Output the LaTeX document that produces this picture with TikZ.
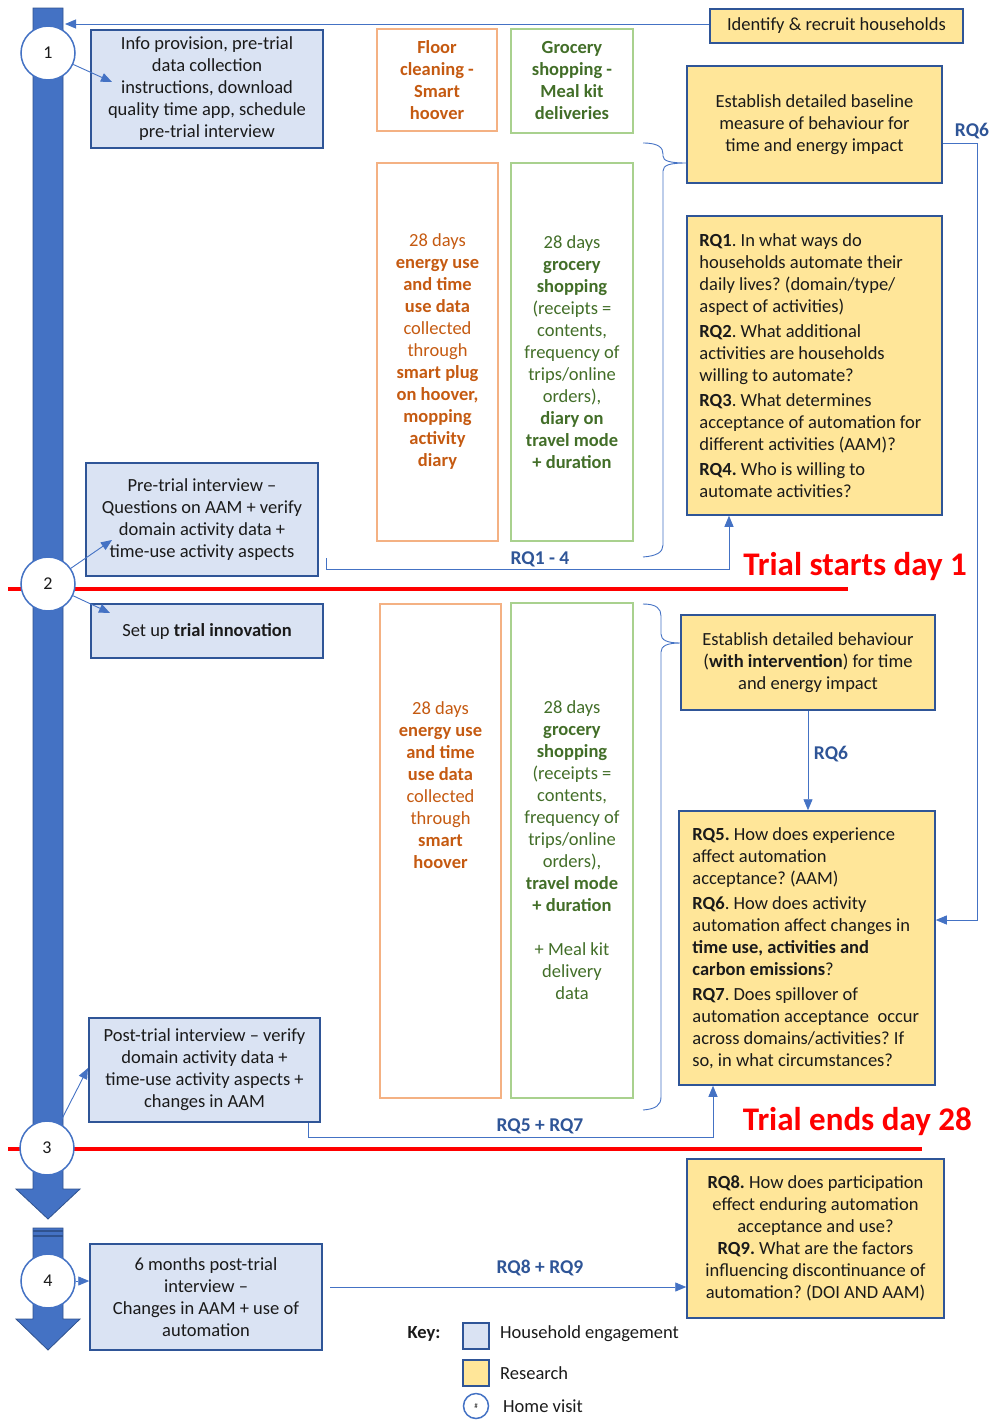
\documentclass[tikz,border=0pt]{standalone}
\usepackage{fontspec}
\setmainfont{Carlito}
\usetikzlibrary{arrows.meta}
\frenchspacing

\definecolor{barblue}{HTML}{4472C4}
\definecolor{bardark}{HTML}{2F528F}
\definecolor{boxedge}{HTML}{2F5597}
\definecolor{engfill}{HTML}{DAE3F3}
\definecolor{resfill}{HTML}{FFE699}
\definecolor{orangeedge}{HTML}{F4B183}
\definecolor{orangetext}{HTML}{C55A11}
\definecolor{greenedge}{HTML}{A9D18E}
\definecolor{greentext}{HTML}{426E28}
\definecolor{labelblue}{HTML}{2F5597}
\definecolor{trialred}{HTML}{FF0000}
\definecolor{ink}{HTML}{1A1A1A}

\newcommand{\bodyfont}{\fontsize{18.5}{22}\selectfont}

\tikzset{
  base/.style={font=\bodyfont, text=ink},
  engage/.style={base, rectangle, draw=boxedge, line width=1.5pt, fill=engfill, align=center, inner sep=0pt},
  research/.style={base, rectangle, draw=boxedge, line width=1.5pt, fill=resfill, align=center, inner sep=0pt},
  rqtext/.style={base, align=left, inner sep=0pt, anchor=west},
  orangebox/.style={rectangle, draw=orangeedge, line width=1.3pt, inner sep=0pt},
  greenbox/.style={rectangle, draw=greenedge, line width=1.3pt, inner sep=0pt},
  orangetxt/.style={font=\bodyfont, text=orangetext, align=center, inner sep=0pt},
  greentxt/.style={font=\bodyfont, text=greentext, align=center, inner sep=0pt},
  visit/.style={circle, draw=barblue, line width=1.5pt, fill=white, minimum size=54pt, inner sep=0pt, font=\fontsize{18}{18}\selectfont, text=ink},
  conn/.style={draw=barblue, line width=0.9pt},
  tipped/.style={-{Triangle[width=9pt,length=11pt]}},
  rqlabel/.style={font=\bfseries\fontsize{19.5}{20}\selectfont, text=labelblue, inner sep=0pt},
  trial/.style={font=\bfseries\fontsize{33}{33}\selectfont, text=trialred, inner sep=0pt},
  redline/.style={draw=trialred, line width=4.5pt},
  timeline/.style={fill=barblue, draw=bardark, line width=0.8pt}
}

\begin{document}
\begin{tikzpicture}[x=1pt, y=-1pt]
\useasboundingbox (0,0) rectangle (994,1427);

% timeline arrows
\path[timeline] (33,8) -- (63,8) -- (63,1189) -- (80,1189) -- (48,1219) -- (16,1189) -- (33,1189) -- cycle;
\path[timeline] (33,1228) -- (63,1228) -- (63,1319) -- (80,1319) -- (48,1350) -- (16,1319) -- (33,1319) -- cycle;
\draw[bardark, line width=1.2pt] (33,1231) -- (63,1231) (33,1236) -- (63,1236);

% trial start / end lines
\draw[redline] (8,589) -- (848,589);
\draw[redline] (8,1149) -- (922,1149);

% household engagement boxes
\node[engage, minimum width=232pt, minimum height=118pt] (info) at (207,89)
  {Info provision, pre-trial\\data collection\\instructions, download\\quality time app, schedule\\pre-trial interview};
\node[engage, minimum width=232pt, minimum height=113pt] (pretrial) at (202,519.5)
  {Pre-trial interview –\\Questions on AAM + verify\\domain activity data +\\time-use activity aspects};
\node[engage, minimum width=232pt, minimum height=54pt] (setup) at (207,631)
  {Set up \textbf{trial innovation}};
\node[engage, minimum width=231pt, minimum height=104pt] (posttrial) at (204.5,1070)
  {Post-trial interview – verify\\domain activity data +\\time-use activity aspects +\\changes in AAM};
\node[engage, minimum width=232pt, minimum height=106pt] (sixmonths) at (206,1297)
  {6 months post-trial\\interview –\\Changes in AAM + use of\\automation};

% research boxes
\node[research, minimum width=253pt, minimum height=34pt] (identify) at (836.5,26)
  {Identify \& recruit households};
\node[research, minimum width=255pt, minimum height=117pt] (baseline) at (814.5,124.5)
  {Establish detailed baseline\\measure of behaviour for\\time and energy impact};
\node[research, minimum width=255pt, minimum height=299pt] (rq14) at (814.5,365.5) {};
\node[rqtext] (rq14txt) at ([xshift=13pt]rq14.west)
  {\textbf{RQ1}. In what ways do\\households automate their\\daily lives? (domain/type/\\aspect of activities)\\[3pt]
   \textbf{RQ2}. What additional\\activities are households\\willing to automate?\\[3pt]
   \textbf{RQ3}. What determines\\acceptance of automation for\\different activities (AAM)?\\[3pt]
   \textbf{RQ4.} Who is willing to\\automate activities?};
\node[research, minimum width=254pt, minimum height=95pt] (intervention) at (808,662.5)
  {Establish detailed behaviour\\(\textbf{with intervention}) for time\\and energy impact};
\node[research, minimum width=256pt, minimum height=274pt] (rq57) at (807,948) {};
\node[rqtext] (rq57txt) at ([xshift=14pt]rq57.west)
  {\textbf{RQ5.} How does experience\\affect automation\\acceptance? (AAM)\\[3pt]
   \textbf{RQ6}. How does activity\\automation affect changes in\\\textbf{time use, activities and}\\\textbf{carbon emissions}?\\[3pt]
   \textbf{RQ7}. Does spillover of\\automation acceptance\ \ occur\\across domains/activities? If\\so, in what circumstances?};
\node[research, minimum width=257pt, minimum height=159pt] (rq89) at (815.5,1238.5)
  {\textbf{RQ8.} How does participation\\effect enduring automation\\acceptance and use?\\
   \textbf{RQ9.} What are the factors\\influencing discontinuance of\\automation? (DOI AND AAM)};

% domain boxes
\node[orangebox, minimum width=120pt, minimum height=102pt] (floor) at (437,80) {};
\node[orangetxt, font=\bfseries\bodyfont] (floortxt) at (437,80)
  {Floor\\cleaning -\\Smart\\hoover};
\node[greenbox, minimum width=122pt, minimum height=104pt] (grocery) at (572,81) {};
\node[greentxt, font=\bfseries\bodyfont] (grocerytxt) at (572,80)
  {Grocery\\shopping -\\Meal kit\\deliveries};

\node[orangebox, minimum width=121pt, minimum height=378pt] (orange1) at (437.5,352) {};
\node[orangetxt] (orange1txt) at (437.5,352)
  {28 days\\\textbf{energy use}\\\textbf{and time}\\\textbf{use data}\\collected\\through\\\textbf{smart plug}\\\textbf{on hoover,}\\\textbf{mopping}\\\textbf{activity}\\\textbf{diary}};
\node[greenbox, minimum width=122pt, minimum height=378pt] (green1) at (572,352) {};
\node[greentxt] (green1txt) at (572,352)
  {28 days\\\textbf{grocery}\\\textbf{shopping}\\(receipts =\\contents,\\frequency of\\trips/online\\orders),\\\textbf{diary on}\\\textbf{travel mode}\\\textbf{+ duration}};

\node[orangebox, minimum width=121pt, minimum height=494pt] (orange2) at (440.5,851) {};
\node[orangetxt] (orange2txt) at (440.5,785)
  {28 days\\\textbf{energy use}\\\textbf{and time}\\\textbf{use data}\\collected\\through\\\textbf{smart}\\\textbf{hoover}};
\node[greenbox, minimum width=122pt, minimum height=495pt] (green2) at (572,850.5) {};
\node[greentxt] (green2txt) at (572,850)
  {28 days\\\textbf{grocery}\\\textbf{shopping}\\(receipts =\\contents,\\frequency of\\trips/online\\orders),\\\textbf{travel mode}\\\textbf{+ duration}\\[22pt]+ Meal kit\\delivery\\data};

% home visits
\node[visit] (c1) at (48,53) {1};
\node[visit] (c2) at (48,584) {2};
\node[visit] (c3) at (47,1148) {3};
\node[visit] (c4) at (48,1281) {4};

% connectors from home visits
\coordinate (a1) at (112,82);
\coordinate (a2) at (112,540);
\coordinate (a3) at (110,613);
\coordinate (a4) at (88,1068);
\draw[conn, tipped] (c1) -- (a1);
\draw[conn, tipped] (c2) -- (a2);
\draw[conn, tipped] (c2) -- (a3);
\draw[conn, tipped] (c3) -- (a4);
\draw[conn, tipped] (c4.east) -- (sixmonths.west |- c4);

% recruitment feeds the timeline
\coordinate (bartop) at (65,24);
\draw[conn, tipped] (identify.west |- bartop) -- (bartop);

% braces grouping the domain data
\draw[conn] (643,143) .. controls (659,143) and (663,148) .. (663,154)
  -- (663,156) .. controls (663,161) and (670,163) .. (baseline.west |- 0,163)
  .. controls (670,163) and (663,165) .. (663,171)
  -- (663,545) .. controls (663,552) and (657,556) .. (643,557);
\draw[conn] (643,604) .. controls (657,604) and (661,609) .. (661,616)
  -- (661,634) .. controls (661,640) and (667,643) .. (intervention.west |- 0,643)
  .. controls (667,643) and (661,646) .. (661,652)
  -- (661,1097) .. controls (661,1105) and (656,1109) .. (643,1110);

% research question links
\coordinate (q14s) at (326,558);
\coordinate (q14c) at (729,569);
\draw[conn, tipped] (q14s) |- (q14c) -- (q14c |- rq14.south);
\node[rqlabel] (q14lab) at (540,559) {RQ1 - 4};

\coordinate (q57s) at (308,1123);
\coordinate (q57c) at (713,1137);
\draw[conn, tipped] (q57s) |- (q57c) -- (q57c |- rq57.south);
\node[rqlabel] (q57lab) at (540,1126) {RQ5 + RQ7};

\draw[conn, tipped] (intervention.south) -- (intervention.south |- rq57.north);
\node[rqlabel] (q6lab) at (831,754) {RQ6};

\coordinate (r6a) at (977,143);
\coordinate (r6b) at (977,920);
\draw[conn, tipped] (baseline.east |- r6a) -- (r6a) -- (r6b) -- (rq57.east |- r6b);
\node[rqlabel] (r6lab) at (972,131) {RQ6};

\coordinate (q89s) at (330,1287);
\draw[conn, tipped] (q89s) -- (rq89.west |- q89s);
\node[rqlabel] (q89lab) at (540,1268) {RQ8 + RQ9};

% trial milestones
\node[trial, anchor=east] (tstart) at (967,567) {Trial starts day 1};
\node[trial, anchor=east] (tend) at (972,1122) {Trial ends day 28};

% key
\node[base, font=\bfseries\bodyfont, inner sep=0pt] (keylab) at (424,1334) {Key:};
\node[engage, minimum width=26pt, minimum height=26pt] (keyeng) at (476,1336) {};
\node[research, minimum width=26pt, minimum height=26pt] (keyres) at (476,1373) {};
\node[visit, minimum size=25pt, font=\fontsize{7}{7}\selectfont] (keyvis) at (476,1406) {\#};
\node[base, anchor=west, inner sep=0pt] (keyengtxt) at (500,1334) {Household engagement};
\node[base, anchor=west, inner sep=0pt] (keyrestxt) at (500,1373) {Research};
\node[base, anchor=west, inner sep=0pt] (keyvistxt) at (503,1406) {Home visit};
\end{tikzpicture}
\end{document}
